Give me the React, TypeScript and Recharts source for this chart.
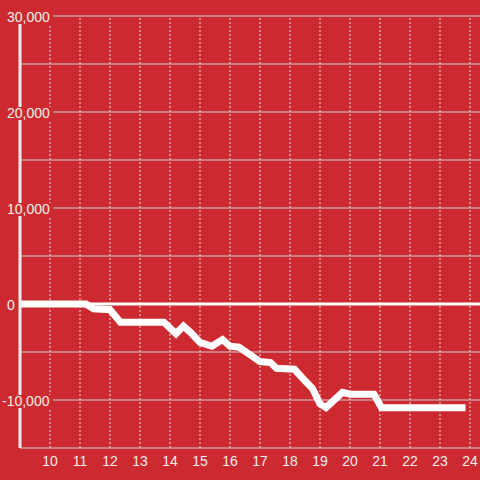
import React from 'react';
import {
    LineChart,
    Line,
    XAxis,
    YAxis,
    CartesianGrid,
    ReferenceLine
} from 'recharts';

const BG = '#cc2a30';
const TEXT = '#eeeeee';

// hour of day, cumulative value
const hours = [9.0, 11.2, 11.45, 12.0, 12.35, 13.8, 14.2, 14.45, 14.7, 15.0, 15.4, 15.75, 16.0, 16.3, 17.0, 17.35, 17.55, 18.15, 18.5, 18.75, 19.0, 19.2, 19.75, 20.0, 20.8, 21.05, 23.85];
const values = [0, 0, -500, -600, -1900, -1900, -3100, -2300, -3000, -4000, -4400, -3700, -4400, -4500, -6000, -6100, -6700, -6800, -8000, -8800, -10400, -10800, -9200, -9400, -9400, -10800, -10800];

const xTicks = [10, 11, 12, 13, 14, 15, 16, 17, 18, 19, 20, 21, 22, 23, 24];
const yTicks = [-15000, -10000, -5000, 0, 5000, 10000, 15000, 20000, 25000, 30000];

const chartData = hours.map((h, i) => ({ h, v: values[i] }));

function YTick(props: any) {
    const { x, y, payload } = props;
    const v = payload.value;
    if (v % 10000 !== 0) return null;
    const tx = v < 0 ? x - 18 : x - 13;
    return (
        <g>
            {v !== 0 && (
                <rect x={x - 16} y={y - 5} width={49} height={13} fill={BG} />
            )}
            <text x={tx} y={y + 6} textAnchor="start" fill={TEXT} fontSize={14}>
                {v.toLocaleString('en-US')}
            </text>
        </g>
    );
}

export default function App() {
    return (
        <div style={{ position: 'absolute', left: 0, top: 0, width: 480, height: 480, background: BG, fontFamily: '"Liberation Sans", Arial, sans-serif' }}>
            <LineChart width={480} height={480} data={chartData} margin={{ top: 16, right: 0, bottom: 0, left: 0 }}>
                <CartesianGrid vertical={false} stroke="#cccccc" strokeWidth={1} />
                {xTicks.map(t => (
                    <ReferenceLine key={t} x={t} stroke="#dddddd" strokeDasharray="2 2" />
                ))}
                <XAxis
                    dataKey="h"
                    type="number"
                    domain={[9, 24.3333]}
                    ticks={xTicks}
                    allowDataOverflow
                    axisLine={false}
                    tickLine={false}
                    tick={{ fill: TEXT, fontSize: 14 }}
                    tickMargin={2}
                    height={32}
                />
                <YAxis
                    type="number"
                    domain={[-15000, 30000]}
                    ticks={yTicks}
                    width={20}
                    axisLine={{ stroke: '#eeeeee', strokeWidth: 3 }}
                    tickLine={false}
                    tickSize={0}
                    tickMargin={0}
                    tick={<YTick />}
                />
                <ReferenceLine y={0} stroke="#ffffff" strokeWidth={3} />
                <Line
                    dataKey="v"
                    type="linear"
                    stroke="#ffffff"
                    strokeWidth={7}
                    dot={false}
                    isAnimationActive={false}
                />
            </LineChart>
        </div>
    );
}
